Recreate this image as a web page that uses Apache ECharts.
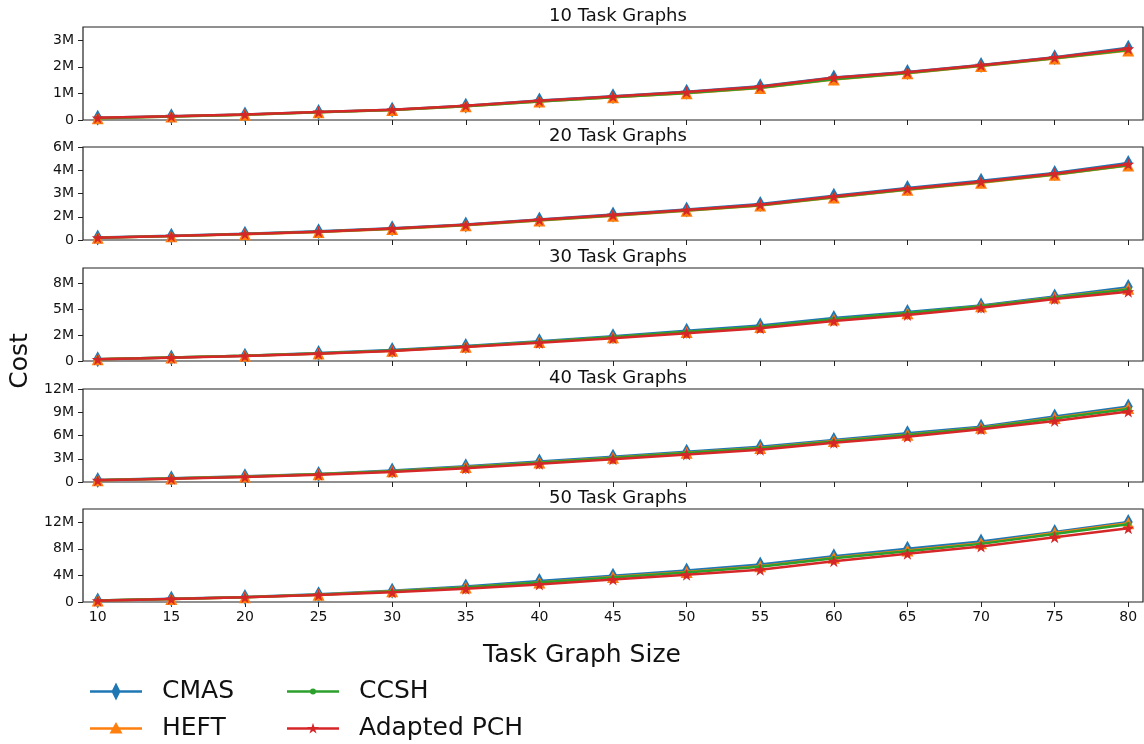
<!DOCTYPE html>
<html>
<head>
<meta charset="utf-8">
<script src="https://cdn.jsdelivr.net/npm/echarts@6/dist/echarts.min.js"></script>
<style>
html,body{margin:0;padding:0;background:#fff;}
#c{width:1144px;height:744px;}
</style>
</head>
<body>
<div id="c"></div>
<script>
// ---- data (values in millions) ----
const sizes = [10,15,20,25,30,35,40,45,50,55,60,65,70,75,80];
const panelTitles = ['10 Task Graphs','20 Task Graphs','30 Task Graphs','40 Task Graphs','50 Task Graphs'];
const seriesNames = ['CMAS','HEFT','CCSH','Adapted PCH'];

const cmas10 = [0.08,0.14,0.21,0.30,0.39,0.54,0.73,0.89,1.06,1.27,1.60,1.81,2.07,2.36,2.72];
const heft10 = [0.07,0.13,0.20,0.29,0.38,0.52,0.70,0.86,1.01,1.20,1.52,1.76,2.03,2.31,2.62];
const ccsh10 = [0.07,0.13,0.20,0.29,0.38,0.52,0.70,0.86,1.02,1.21,1.53,1.77,2.04,2.32,2.63];
const pch10  = [0.08,0.14,0.21,0.30,0.39,0.54,0.72,0.88,1.05,1.25,1.59,1.80,2.06,2.35,2.68];

const cmas20 = [0.16,0.27,0.40,0.56,0.76,1.00,1.33,1.65,1.97,2.32,2.86,3.35,3.82,4.33,4.97];
const heft20 = [0.14,0.25,0.37,0.52,0.71,0.95,1.26,1.57,1.88,2.22,2.74,3.24,3.70,4.21,4.80];
const ccsh20 = [0.14,0.25,0.38,0.53,0.72,0.96,1.27,1.58,1.90,2.24,2.76,3.26,3.72,4.23,4.82];
const pch20  = [0.15,0.26,0.39,0.54,0.74,0.98,1.30,1.61,1.93,2.28,2.80,3.30,3.76,4.28,4.89];

const cmas30 = [0.17,0.35,0.52,0.77,1.06,1.44,1.92,2.40,2.92,3.43,4.17,4.74,5.38,6.25,7.15];
const heft30 = [0.16,0.33,0.50,0.73,1.00,1.39,1.83,2.30,2.80,3.30,4.02,4.62,5.30,6.15,6.98];
const ccsh30 = [0.16,0.33,0.50,0.73,1.01,1.40,1.85,2.32,2.83,3.32,4.05,4.64,5.30,6.12,6.92];
const pch30  = [0.16,0.32,0.48,0.70,0.96,1.35,1.76,2.21,2.69,3.17,3.88,4.46,5.16,5.99,6.70];

const cmas40 = [0.26,0.48,0.74,1.04,1.47,2.03,2.64,3.25,3.90,4.55,5.41,6.28,7.14,8.45,9.74];
const heft40 = [0.23,0.45,0.70,1.00,1.40,1.92,2.52,3.12,3.76,4.40,5.28,6.10,7.00,8.25,9.55];
const ccsh40 = [0.23,0.45,0.69,0.99,1.38,1.90,2.50,3.10,3.74,4.37,5.24,6.06,6.96,8.18,9.42];
const pch40  = [0.22,0.43,0.65,0.95,1.30,1.77,2.34,2.94,3.55,4.16,5.06,5.84,6.80,7.88,9.09];

const cmas50 = [0.22,0.48,0.76,1.15,1.70,2.35,3.15,3.95,4.75,5.65,6.90,8.00,9.10,10.55,12.05];
const heft50 = [0.21,0.46,0.73,1.10,1.60,2.20,2.95,3.75,4.50,5.40,6.65,7.75,8.85,10.40,11.85];
const ccsh50 = [0.21,0.46,0.72,1.09,1.58,2.18,2.92,3.70,4.45,5.32,6.58,7.65,8.75,10.25,11.70];
const pch50  = [0.20,0.45,0.70,1.05,1.45,2.00,2.65,3.40,4.10,4.85,6.15,7.25,8.35,9.75,11.10];

const yTicks1 = [0,1,2,3];
const yTicks2 = [0,1.5,3,4.5,6];
const yTicks3 = [0,2.5,5,7.5];
const yTicks4 = [0,3,6,9,12];
const yTicks5 = [0,4,8,12];
const yMax = [3.5,6,9,12,14];

// ---- build ----
const panels = [
  [cmas10,heft10,ccsh10,pch10],
  [cmas20,heft20,ccsh20,pch20],
  [cmas30,heft30,ccsh30,pch30],
  [cmas40,heft40,ccsh40,pch40],
  [cmas50,heft50,ccsh50,pch50]
];
const yTicks = [yTicks1,yTicks2,yTicks3,yTicks4,yTicks5];

const colors = ['#1f77b4','#ff7f0e','#2ca02c','#d62728'];
const starPath = 'path://M50,0 L61.2,34.5 L97.6,34.5 L68.2,55.9 L79.4,90.5 L50,69.1 L20.6,90.5 L31.8,55.9 L2.4,34.5 L38.8,34.5 Z';
const symbols = ['diamond','triangle','circle',starPath];
const symbolSizes = [[9,16],12,5,12];
const FONT = 'DejaVu Sans';

// legend icons: line + marker drawn in a 52x18 box
const LW = 52, LH = 18;
function starSub(cx, cy, s){
  const pts = [[50,0],[61.2,34.5],[97.6,34.5],[68.2,55.9],[79.4,90.5],[50,69.1],[20.6,90.5],[31.8,55.9],[2.4,34.5],[38.8,34.5]];
  return 'M' + pts.map(p => ((cx + (p[0]-50)*s).toFixed(2) + ',' + (cy + (p[1]-48)*s).toFixed(2))).join(' L') + ' Z';
}
const lineSub = 'M0,7.75 L52,7.75 L52,10.25 L0,10.25 Z';
const anchors = ' M0,0 L0.01,0 L0,0.01 Z M0,18 L0,17.99 L0.01,18 Z';
const legendIcons = [
  'path://' + lineSub + ' M26,0 L30.5,9 L26,18 L21.5,9 Z' + anchors,
  'path://' + lineSub + ' M26,2.5 L32.5,14 L19.5,14 Z' + anchors,
  'path://' + lineSub + ' M29,9 A3,3 0 1 1 23,9 A3,3 0 1 1 29,9 Z' + anchors,
  'path://' + lineSub + ' ' + starSub(26, 9, 0.12) + anchors
];

function rhe(v){
  const f = Math.floor(v);
  const d = v - f;
  if (Math.abs(d-0.5) < 1e-9) return (f % 2 === 0) ? f : f+1;
  return Math.round(v);
}
function fmtM(v){ return Math.abs(v) < 1e-9 ? '0' : rhe(v) + 'M'; }

const tops = [27,147,268,389,509];
const H = 93;
const grids = [], xAxes = [], yAxes = [], series = [], titles = [];
for (let i=0;i<5;i++){
  grids.push({left:83, right:1, top:tops[i], height:H, show:true, borderColor:'#222', borderWidth:1.2, backgroundColor:'transparent'});
  xAxes.push({
    type:'value', gridIndex:i, min:9, max:81,
    axisLine:{show:false},
    axisTick:{show:true, length:5, lineStyle:{color:'#222', width:1}, customValues:sizes},
    axisLabel:{show:i===4, customValues:sizes, color:'#111', fontSize:14, fontFamily:FONT, margin:8},
    splitLine:{show:false}
  });
  yAxes.push({
    type:'value', gridIndex:i, min:0, max:yMax[i],
    axisLine:{show:false},
    axisTick:{show:true, length:5, lineStyle:{color:'#222', width:1}, customValues:yTicks[i]},
    axisLabel:{customValues:yTicks[i], formatter:fmtM, color:'#111', fontSize:14, fontFamily:FONT, margin:9},
    splitLine:{show:false}
  });
  titles.push({text:panelTitles[i], left:613, top:tops[i]-25, textAlign:'center',
    textStyle:{fontFamily:FONT, fontSize:18, fontWeight:'normal', color:'#111'}});
  for (let s=0;s<4;s++){
    series.push({
      type:'line', name:seriesNames[s], xAxisIndex:i, yAxisIndex:i,
      data: sizes.map((x,k)=>[x, panels[i][s][k]]),
      symbol:symbols[s], symbolSize:symbolSizes[s], showSymbol:true,
      lineStyle:{color:colors[s], width:2.5},
      itemStyle:{color:colors[s]},
      z: 2+s, animation:false
    });
  }
}

const legendCommon = {orient:'vertical', top:678, height:66, padding:0, itemWidth:LW, itemHeight:LH, itemGap:10,
  textStyle:{fontFamily:FONT, fontSize:25, lineHeight:27, color:'#111', padding:[0,0,0,15]}};

const chart = echarts.init(document.getElementById('c'), null, {renderer:'canvas'});
chart.setOption({
  animation:false,
  backgroundColor:'#fff',
  color:colors,
  title:titles,
  grid:grids, xAxis:xAxes, yAxis:yAxes, series:series,
  legend:[
    Object.assign({}, legendCommon, {left:90, data:[
      {name:'CMAS', icon:legendIcons[0]}, {name:'HEFT', icon:legendIcons[1]}]}),
    Object.assign({}, legendCommon, {left:287, data:[
      {name:'CCSH', icon:legendIcons[2]}, {name:'Adapted PCH', icon:legendIcons[3]}]})
  ],
  graphic:[
    {type:'text', x:20, y:361, rotation:Math.PI/2,
     style:{text:'Cost', fontFamily:FONT, fontSize:25, fill:'#111', align:'center', verticalAlign:'middle'}},
    {type:'text', x:582, y:655,
     style:{text:'Task Graph Size', fontFamily:FONT, fontSize:25, fill:'#111', align:'center', verticalAlign:'middle'}}
  ]
});
</script>
</body>
</html>
